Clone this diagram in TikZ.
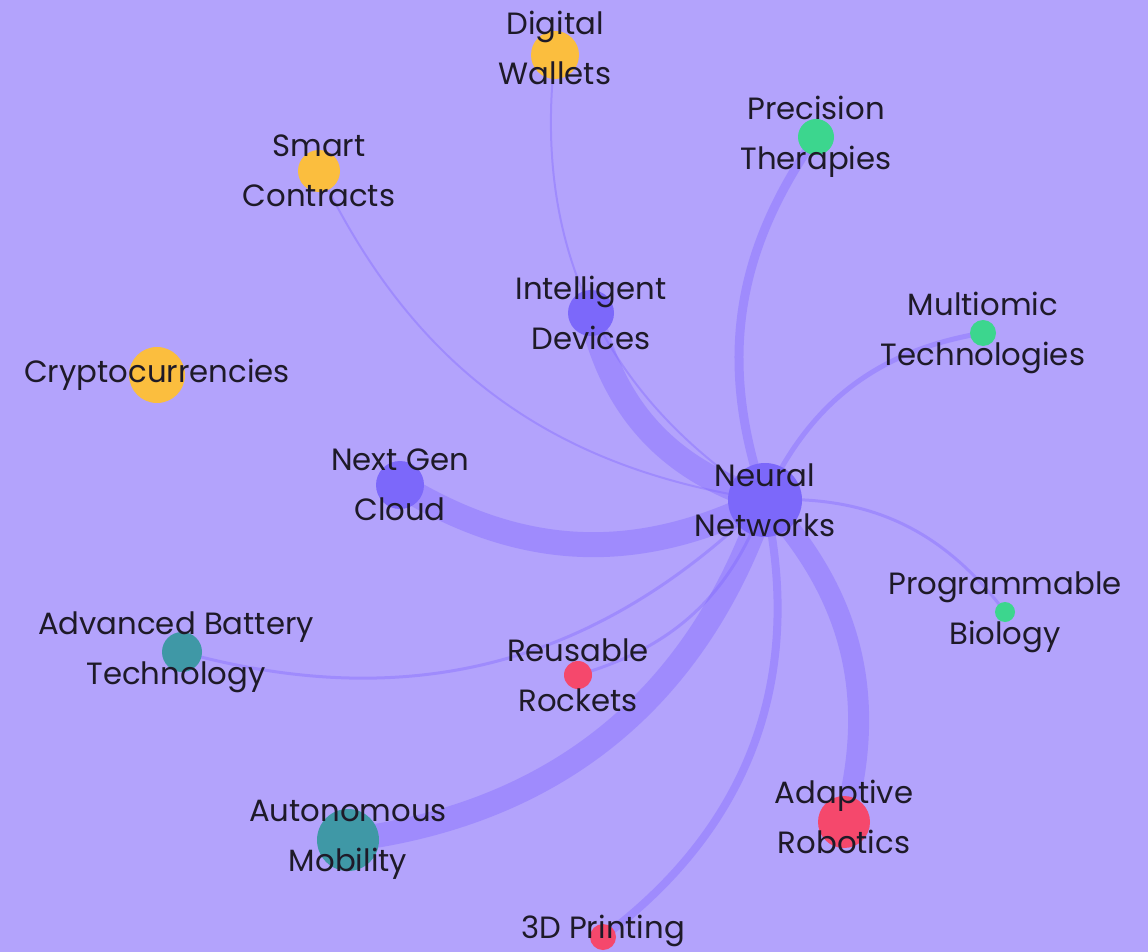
\documentclass[tikz,border=0pt]{standalone}
\usepackage{fontspec}
\setmainfont{Poppins}
\usetikzlibrary{backgrounds}
\definecolor{bgviolet}{RGB}{179,163,252}
\definecolor{hubviolet}{RGB}{124,104,250}
\definecolor{linkviolet}{RGB}{123,97,255}
\definecolor{coinyellow}{RGB}{251,190,62}
\definecolor{biogreen}{RGB}{60,214,142}
\definecolor{moveteal}{RGB}{63,152,166}
\definecolor{makered}{RGB}{245,72,108}
\definecolor{inkdark}{RGB}{30,26,40}
\tikzset{
 topic/.style={circle,inner sep=0pt,minimum size={#1*0.02cm}},
 lbl/.style={align=center,text=inkdark,font=\fontsize{17.5}{28.5}\selectfont},
 link/.style={draw=linkviolet,draw opacity=.35,line width={#1*0.02cm}},
}
\begin{document}
\begin{tikzpicture}[x=0.02cm,y=-0.02cm]
 \useasboundingbox (0,0) rectangle (1148,952);
 % topics
 \node[topic=74,fill=hubviolet,label={[lbl]center:{Neural\\Networks}}] (nn) at (765,500) {};
 \node[topic=48,fill=coinyellow,label={[lbl,yshift=0.14cm]center:{Digital\\Wallets}}] (dw) at (555,55) {};
 \node[topic=42,fill=coinyellow,label={[lbl]center:{Smart\\Contracts}}] (sc) at (319,171) {};
 \node[topic=56,fill=coinyellow,label={[lbl]center:Cryptocurrencies}] (cr) at (157,375) {};
 \node[topic=36,fill=biogreen,label={[lbl]center:{Precision\\Therapies}}] (pt) at (816,137) {};
 \node[topic=26,fill=biogreen,label={[lbl]center:{Multiomic\\Technologies}}] (mt) at (983,333) {};
 \node[topic=20,fill=biogreen,label={[lbl]center:{Programmable\\Biology}}] (pb) at (1005,612) {};
 \node[topic=46,fill=hubviolet,label={[lbl]center:{Intelligent\\Devices}}] (id) at (591,313) {};
 \node[topic=48,fill=hubviolet,label={[lbl]center:{Next Gen\\Cloud}}] (ngc) at (400,485) {};
 \node[topic=40,fill=moveteal,label={[lbl,xshift=-0.12cm]center:{Advanced Battery\\Technology}}] (abt) at (182,652) {};
 \node[topic=62,fill=moveteal,label={[lbl]center:{Autonomous\\Mobility}}] (am) at (348,840) {};
 \node[topic=28,fill=makered,label={[lbl]center:{Reusable\\Rockets}}] (rr) at (578,675) {};
 \node[topic=52,fill=makered,label={[lbl,yshift=0.1cm]center:{Adaptive\\Robotics}}] (ar) at (844,822) {};
 \node[topic=26,fill=makered,label={[lbl,yshift=0.12cm]center:3D Printing}] (tdp) at (603,937) {};
 \begin{scope}[on background layer]
 \fill[bgviolet] (0,0) rectangle (1148,952);
 % links to the hub
 \draw[link=2] (dw.center) to[bend right=32] (nn.center);
 \draw[link=25] (id.center) to[bend right=30] (nn.center);
 \draw[link=2] (sc.center) to[bend right=28] (nn.center);
 \draw[link=9] (pt.center) to[bend right=27] (nn.center);
 \draw[link=5] (mt.center) to[bend right=28] (nn.center);
 \draw[link=3] (pb.center) to[bend right=28] (nn.center);
 \draw[link=25] (ngc.center) to[bend right=29] (nn.center);
 \draw[link=3] (abt.center) to[bend right=30] (nn.center);
 \draw[link=3] (rr.center) to[bend right=27] (nn.center);
 \draw[link=24] (am.center) to[bend right=32] (nn.center);
 \draw[link=8] (tdp.center) to[bend right=33] (nn.center);
 \draw[link=21] (ar.center) to[bend right=29] (nn.center);
 \end{scope}
\end{tikzpicture}
\end{document}
